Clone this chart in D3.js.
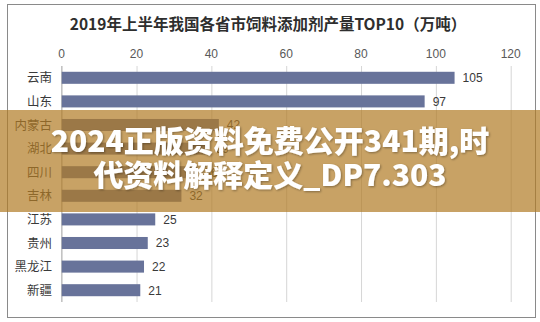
<!doctype html>
<html lang='zh'>
<head>
    <meta charset='utf-8'>
    <title>饲料添加剂产量TOP10</title>
    <script src='https://cdn.jsdelivr.net/npm/d3@7/dist/d3.min.js'></script>
    <style>
        body { margin: 0; background: white; }
        svg { display: block; font-family: 'Noto Sans CJK SC', 'Liberation Sans', sans-serif; }
        .frame { fill: none; stroke: #8a8a8a; stroke-width: 1px; }
        .grid line { stroke: #d6d6d6; }
        .grid .domain { display: none; }
        .tick-label { fill: #595959; font-size: 12px; font-family: 'Liberation Sans', Arial, sans-serif; }
        .cat-label { fill: #3a3a3a; font-size: 12.5px; }
        .val-label { fill: #3a3a3a; font-size: 12px; font-family: 'Liberation Sans', Arial, sans-serif; }
        .bar { fill: #68739a; }
        .mark-text { fill: white; font-weight: 900; font-size: 30px; }
    </style>
</head>
<body>
<div id='chart'></div>
<script>
    const title = '2019年上半年我国各省市饲料添加剂产量TOP10（万吨）';
    const provinces = ['云南', '山东', '内蒙古', '湖北', '四川', '吉林', '江苏', '贵州', '黑龙江', '新疆'];
    const output = [105, 97, 42, 39, 36, 32, 25, 23, 22, 21];
    const xTicks = [0, 20, 40, 60, 80, 100, 120];
    const watermarkLines = ['2024正版资料免费公开341期,时', '代资料解释定义_DP7.303'];

    const width = 540, height = 322;
    const plot = {left: 61.7, right: 510.7, top: 66, bottom: 302};

    const svg = d3.select('#chart').append('svg')
        .attr('width', width)
        .attr('height', height);

    svg.append('rect').attr('width', width).attr('height', height).attr('fill', 'white');
    svg.append('rect').attr('class', 'frame')
        .attr('x', 7.5).attr('y', 4.5).attr('width', 528).attr('height', 313);

    svg.append('text')
        .attr('x', 268).attr('y', 30)
        .attr('text-anchor', 'middle')
        .style('font-size', '15.5px')
        .style('font-weight', 'bold')
        .style('fill', '#2e2e2e')
        .text(title);

    const x = d3.scaleLinear().domain([0, 120]).range([plot.left, plot.right]);
    const y = d3.scaleBand().domain(provinces).range([plot.top, plot.bottom]).paddingInner(0.49).paddingOuter(0.245);

    // vertical gridlines
    svg.append('g').attr('class', 'grid')
        .attr('transform', `translate(0,${plot.bottom})`)
        .call(d3.axisTop(x).tickValues(xTicks).tickSize(plot.bottom - plot.top).tickFormat(''));

    // category axis line
    svg.append('line')
        .attr('x1', x(0)).attr('x2', x(0))
        .attr('y1', plot.top).attr('y2', plot.bottom)
        .attr('stroke', '#b8b8b8');

    svg.selectAll('.tick-label')
        .data(xTicks)
        .enter()
        .append('text')
        .attr('class', 'tick-label')
        .attr('x', d => x(d))
        .attr('y', 58)
        .attr('text-anchor', 'middle')
        .text(d => d);

    svg.selectAll('.bar')
        .data(provinces)
        .enter()
        .append('rect')
        .attr('class', 'bar')
        .attr('x', x(0))
        .attr('y', d => y(d))
        .attr('width', (d, i) => x(output[i]) - x(0))
        .attr('height', y.bandwidth());

    svg.selectAll('.cat-label')
        .data(provinces)
        .enter()
        .append('text')
        .attr('class', 'cat-label')
        .attr('x', 52)
        .attr('y', d => y(d) + y.bandwidth() / 2)
        .attr('dy', '0.36em')
        .attr('text-anchor', 'end')
        .text(d => d);

    svg.selectAll('.val-label')
        .data(provinces)
        .enter()
        .append('text')
        .attr('class', 'val-label')
        .attr('x', (d, i) => x(output[i]) + 8)
        .attr('y', d => y(d) + y.bandwidth() / 2)
        .attr('dy', '0.36em')
        .text((d, i) => output[i]);

    // tan overlay band with the caption
    svg.append('rect')
        .attr('x', 0).attr('y', 110)
        .attr('width', width).attr('height', 102)
        .attr('fill', 'rgb(176,122,36)')
        .attr('fill-opacity', 0.7);

    const shadow = svg.append('defs').append('filter').attr('id', 'shade')
        .attr('x', '-5%').attr('y', '-20%').attr('width', '110%').attr('height', '140%');
    shadow.append('feDropShadow')
        .attr('dx', 1).attr('dy', 1).attr('stdDeviation', 1)
        .attr('flood-color', '#000').attr('flood-opacity', 0.35);

    svg.selectAll('.mark-text')
        .data(watermarkLines)
        .enter()
        .append('text')
        .attr('class', 'mark-text')
        .attr('x', 270)
        .attr('y', (d, i) => 152 + i * 34)
        .attr('text-anchor', 'middle')
        .attr('filter', 'url(#shade)')
        .text(d => d);
</script>
</body>
</html>
